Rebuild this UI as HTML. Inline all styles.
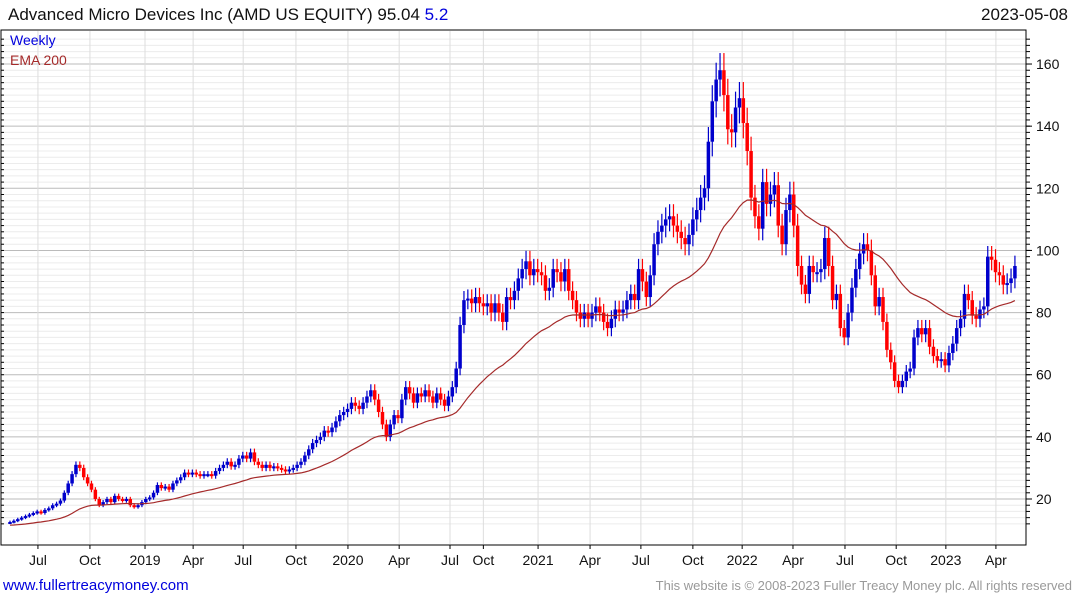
<!DOCTYPE html>
<html><head><meta charset="utf-8"><style>
body{margin:0;background:#fff;width:1075px;height:600px;overflow:hidden;font-family:"Liberation Sans",sans-serif}
</style></head><body>
<svg id="c" width="1075" height="600" style="position:absolute;left:0;top:0">
<text x="8" y="20" font-size="17" fill="#111">Advanced Micro Devices Inc (AMD US EQUITY) 95.04 <tspan fill="#0000dd">5.2</tspan></text>
<text x="1068" y="20" font-size="17" fill="#111" text-anchor="end">2023-05-08</text>
<g id="grid"></g>
<g id="marks"></g>
<text x="10" y="45" font-size="14" fill="#0000dd">Weekly</text>
<text x="10" y="65" font-size="14" fill="#a52a2a">EMA 200</text>
<rect x="1" y="30" width="1025" height="515" fill="none" stroke="#000" stroke-width="1"/>
<g id="axes"></g>
<text x="3" y="590" font-size="15" fill="#0000dd">www.fullertreacymoney.com</text>
<text x="1072" y="590" font-size="13" fill="#999" text-anchor="end">This website is © 2008-2023 Fuller Treacy Money plc. All rights reserved</text>
</svg>
<script>
const closes=[12.6,13,13.5,14,14.5,15,15.5,16,15.5,16.5,17,18,18.5,19.5,22,25,28,31,30,27,25,23,20,18,19,20,19,21,20,19.5,20,18,17.5,18,19,20,20.5,22,24.5,23.5,24,23,25,26,27,28.5,28,28.5,28,27.5,28,28,27.5,29,30,31,32,30.5,31,33,34,33,35,32,31,30,31,30,30.5,30,29.5,29,29.5,30,31,32,34,36,38,39,40,42,41.5,43,45,47,48,49,51,50,49,51,53,55,52,48,44,40,44,47,46,52,56,54,51,54,53,55,53,51,54,52,50,53,56,62,76,84,84.5,83,85,83,82,83,80,83,80,77,85,84,87,91,94,96.5,92,94,93,92,87,88,94,93,90,94,87,84,80,78,80,78,80,82,80,77,75,78,81,80,81,84,86,84,94,90,85,92,102,106,108,110,111,108,106,104,102,105,110,113,117,120,135,148,155,158,150,139,138,146,149,141,132,117,111,107,122,115,118,121,108,102,113,118,108,95,89,86,95,93,93,94,104,95,84,86,75,72,80,88,94,99,102,100,92,82,85,77,68,64,58,56,58,61,62,72,75,73,75,69,66,64.5,65,63,67,70,75,78,86,84,79,78,81,82,98,97,93,92,89,89.5,91,95];
const yTicks=[20,40,60,80,100,120,140,160];
const xLabels=["Jul","Oct","2019","Apr","Jul","Oct","2020","Apr","Jul","Oct","2021","Apr","Jul","Oct","2022","Apr","Jul","Oct","2023","Apr"];
const xLabelWeek=[7.2,20.6,34.8,47.2,60.1,73.7,87.1,100.3,113.4,122.0,136.1,149.5,162.6,176.0,188.7,201.8,215.2,228.4,241.2,254.1];
const emaStart=11.5, emaPeriod=40;
const NS="http://www.w3.org/2000/svg";
const Y=v=>499-(v-20)*3.107;
const X=i=>10+i*3.88;
function mk(tag,attrs,parent){const e=document.createElementNS(NS,tag);for(const k in attrs)e.setAttribute(k,attrs[k]);parent.appendChild(e);return e;}
const grid=document.getElementById('grid'),marks=document.getElementById('marks'),axes=document.getElementById('axes');
for(let v=12;v<=168;v+=2){const y=Y(v);if(y<31||y>544)continue;
 const major=v%20===0;
 const l=mk('line',{x1:2,x2:1026,y1:y,y2:y,stroke:major?'#bbb':'#ececec','stroke-width':1},grid);
 
 
 mk('line',{x1:1026,x2:1030,y1:y,y2:y,stroke:'#000'},axes);
 mk('line',{x1:1,x2:4,y1:y,y2:y,stroke:'#000'},axes);}
xLabelWeek.forEach((w,k)=>{const x=X(w);
 const l=mk('line',{x1:x,x2:x,y1:31,y2:544,stroke:'#ddd'},grid);
 
 
 mk('line',{x1:x,x2:x,y1:545,y2:549,stroke:'#000'},axes);
 const t=mk('text',{x:x,y:565,'font-size':14,'text-anchor':'middle',fill:'#111'},axes);t.textContent=xLabels[k];
 
 });
yTicks.forEach(v=>{const t=mk('text',{x:1036,y:Y(v)+5,'font-size':14,fill:'#111'},axes);t.textContent=v;
 
 
 mk('line',{x1:1026,x2:1032,y1:Y(v),y2:Y(v),stroke:'#000'},axes);});
closes.forEach((c,i)=>{const o=i?closes[i-1]:c*0.98;const up=c>=o;const col=up?'#0000cc':'#ff0000';
 const hi=Math.max(o,c)*1.035,lo=Math.min(o,c)*0.965;const x=X(i);
 mk('line',{x1:x,x2:x,y1:Y(hi),y2:Y(lo),stroke:col,'stroke-width':1.2},marks);
 const top=Y(Math.max(o,c)),bh=Math.max(2,Y(Math.min(o,c))-top);
 const r=mk('rect',{x:x-1.75,y:top,width:3.5,height:bh,fill:col},marks);
 
 });
let e=emaStart,a=2/(emaPeriod+1),pts=[];
closes.forEach((c,i)=>{e=e+a*(c-e);pts.push(X(i).toFixed(1)+','+Y(e).toFixed(1));});
const p=mk('polyline',{points:pts.join(' '),fill:'none',stroke:'#a52a2a','stroke-width':1.2},marks);


</script>
</body></html>
